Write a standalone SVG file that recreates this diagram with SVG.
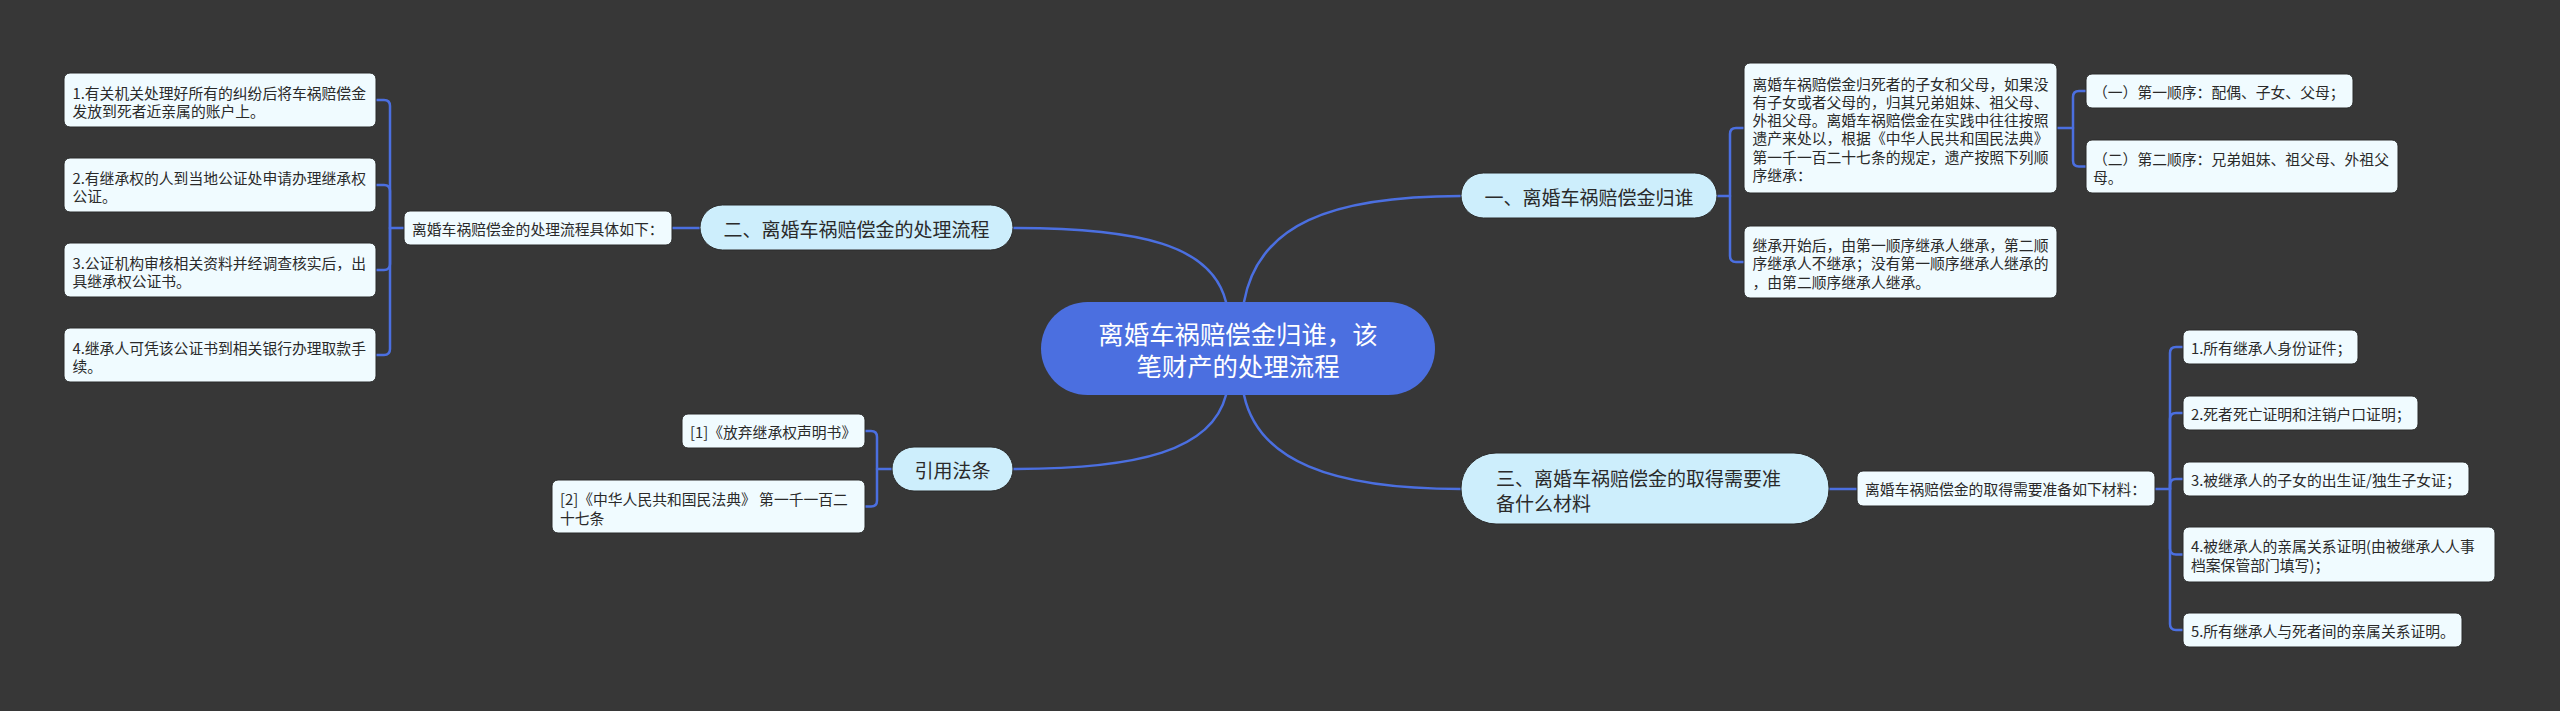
<svg xmlns="http://www.w3.org/2000/svg" width="2560" height="711" viewBox="0 0 2560 711">
<style>
text{font-family:"Noto Sans CJK SC","Noto Sans",sans-serif;dominant-baseline:central;}
.bg{fill:#373737;}
.root{fill:#4b6fe0;}
.rt{fill:#ffffff;font-size:25.4px;text-anchor:middle;}
.l1{fill:#cdeefc;stroke:#2b2b2b;stroke-width:1;}
.t1{fill:#2a2a2a;font-size:19px;}
.lf{fill:#f0fbff;stroke:#2b2b2b;stroke-width:1;}
.t2{fill:#2a2a2a;font-size:14.8px;}
.c{fill:none;stroke:#4b6fe0;stroke-width:2.5;stroke-linecap:round;stroke-linejoin:round;}
</style>
<rect class="bg" x="0" y="0" width="2560" height="711"/>
<g id="connectors">
<path class="c" d="M1244,302 C1258,225 1330,196 1461,196"/>
<path class="c" d="M1226,302 C1212,245 1140,228 1013,228"/>
<path class="c" d="M1226,395 C1212,450 1140,469 1013,469"/>
<path class="c" d="M1244,395 C1258,460 1330,489 1461,489"/>
<path class="c" d="M700,228 L672,228"/>
<path class="c" d="M404,228 L390,228 L390,106 Q390,100 384,100 L376,100"/>
<path class="c" d="M390,228 L390,191 Q390,185 384,185 L376,185"/>
<path class="c" d="M390,228 L390,264 Q390,270 384,270 L376,270"/>
<path class="c" d="M390,228 L390,349 Q390,355 384,355 L376,355"/>
<path class="c" d="M892,469 L877,469 L877,437 Q877,431 871,431 L865,431"/>
<path class="c" d="M877,469 L877,500.5 Q877,506.5 871,506.5 L865,506.5"/>
<path class="c" d="M1717,196 L1730,196 L1730,134 Q1730,128 1736,128 L1744,128"/>
<path class="c" d="M1730,196 L1730,256 Q1730,262 1736,262 L1744,262"/>
<path class="c" d="M2057,128 L2073,128 L2073,97 Q2073,91 2079,91 L2086,91"/>
<path class="c" d="M2073,128 L2073,160.5 Q2073,166.5 2079,166.5 L2086,166.5"/>
<path class="c" d="M1829,489 L1857,489"/>
<path class="c" d="M2155,489 L2170,489 L2170,353 Q2170,347 2176,347 L2183,347"/>
<path class="c" d="M2170,489 L2170,419 Q2170,413 2176,413 L2183,413"/>
<path class="c" d="M2170,489 L2170,485 Q2170,479 2176,479 L2183,479"/>
<path class="c" d="M2170,489 L2170,548.5 Q2170,554.5 2176,554.5 L2183,554.5"/>
<path class="c" d="M2170,489 L2170,624 Q2170,630 2176,630 L2183,630"/>
</g>
<g id="root">
<rect class="root" x="1041" y="302" width="394" height="93" rx="46.5"/>
<text class="rt"><tspan x="1238" y="333">离婚车祸赔偿金归谁，该</tspan><tspan x="1238" y="365">笔财产的处理流程</tspan></text>
</g>
<g id="n1">
<rect class="l1" x="1461" y="173" width="256" height="45" rx="22.5"/>
<text class="t1" x="1589" y="196" text-anchor="middle">一、离婚车祸赔偿金归谁</text>
</g>
<g id="n2">
<rect class="l1" x="700" y="205" width="313" height="45" rx="22.5"/>
<text class="t1" x="856.5" y="228" text-anchor="middle">二、离婚车祸赔偿金的处理流程</text>
</g>
<g id="n3">
<rect class="l1" x="1461" y="453" width="368" height="71" rx="35"/>
<text class="t1"><tspan x="1496" y="477">三、离婚车祸赔偿金的取得需要准</tspan><tspan x="1496" y="502">备什么材料</tspan></text>
</g>
<g id="n4">
<rect class="l1" x="892" y="447" width="121" height="44" rx="22"/>
<text class="t1" x="952.5" y="469" text-anchor="middle">引用法条</text>
</g>
<g id="n2-label">
<rect class="lf" x="404" y="211" width="268" height="34" rx="6"/>
<text class="t2" x="412" y="228">离婚车祸赔偿金的处理流程具体如下：</text>
</g>
<g id="n2-1">
<rect class="lf" x="64" y="73" width="312" height="54" rx="6"/>
<text class="t2"><tspan x="72.5" y="91.5">1.有关机关处理好所有的纠纷后将车祸赔偿金</tspan><tspan x="72.5" y="110">发放到死者近亲属的账户上。</tspan></text>
</g>
<g id="n2-2">
<rect class="lf" x="64" y="158" width="312" height="54" rx="6"/>
<text class="t2"><tspan x="72.5" y="176.5">2.有继承权的人到当地公证处申请办理继承权</tspan><tspan x="72.5" y="195">公证。</tspan></text>
</g>
<g id="n2-3">
<rect class="lf" x="64" y="243" width="312" height="54" rx="6"/>
<text class="t2"><tspan x="72.5" y="261.5">3.公证机构审核相关资料并经调查核实后，出</tspan><tspan x="72.5" y="280">具继承权公证书。</tspan></text>
</g>
<g id="n2-4">
<rect class="lf" x="64" y="328" width="312" height="54" rx="6"/>
<text class="t2"><tspan x="72.5" y="346.5">4.继承人可凭该公证书到相关银行办理取款手</tspan><tspan x="72.5" y="365">续。</tspan></text>
</g>
<g id="n4-1">
<rect class="lf" x="682" y="414" width="183" height="34" rx="6"/>
<text class="t2" x="690" y="431">[1]《放弃继承权声明书》</text>
</g>
<g id="n4-2">
<rect class="lf" x="552" y="480" width="313" height="53" rx="6"/>
<text class="t2"><tspan x="560" y="498">[2]《中华人民共和国民法典》 第一千一百二</tspan><tspan x="560" y="516.5">十七条</tspan></text>
</g>
<g id="n1-1">
<rect class="lf" x="1744" y="63" width="313" height="130" rx="6"/>
<text class="t2"><tspan x="1752.5" y="82.5">离婚车祸赔偿金归死者的子女和父母，如果没</tspan><tspan x="1752.5" y="100.8">有子女或者父母的，归其兄弟姐妹、祖父母、</tspan><tspan x="1752.5" y="119.1">外祖父母。离婚车祸赔偿金在实践中往往按照</tspan><tspan x="1752.5" y="137.4">遗产来处以，根据《中华人民共和国民法典》</tspan><tspan x="1752.5" y="155.7">第一千一百二十七条的规定，遗产按照下列顺</tspan><tspan x="1752.5" y="174">序继承：</tspan></text>
</g>
<g id="n1-2">
<rect class="lf" x="1744" y="226" width="313" height="72" rx="6"/>
<text class="t2"><tspan x="1752.5" y="244">继承开始后，由第一顺序继承人继承，第二顺</tspan><tspan x="1752.5" y="262.3">序继承人不继承；没有第一顺序继承人继承的</tspan><tspan x="1752.5" y="280.6">，由第二顺序继承人继承。</tspan></text>
</g>
<g id="n1-1-1">
<rect class="lf" x="2086" y="74" width="267" height="34" rx="6"/>
<text class="t2" x="2093" y="91">（一）第一顺序：配偶、子女、父母；</text>
</g>
<g id="n1-1-2">
<rect class="lf" x="2086" y="140" width="312" height="53" rx="6"/>
<text class="t2"><tspan x="2093" y="157.5">（二）第二顺序：兄弟姐妹、祖父母、外祖父</tspan><tspan x="2093" y="176">母。</tspan></text>
</g>
<g id="n3-label">
<rect class="lf" x="1857" y="471" width="298" height="35" rx="6"/>
<text class="t2" x="1865" y="488.5">离婚车祸赔偿金的取得需要准备如下材料：</text>
</g>
<g id="n3-1">
<rect class="lf" x="2183" y="330" width="175" height="34" rx="6"/>
<text class="t2" x="2191" y="347">1.所有继承人身份证件；</text>
</g>
<g id="n3-2">
<rect class="lf" x="2183" y="396" width="235" height="34" rx="6"/>
<text class="t2" x="2191" y="413">2.死者死亡证明和注销户口证明；</text>
</g>
<g id="n3-3">
<rect class="lf" x="2183" y="462" width="286" height="34" rx="6"/>
<text class="t2" x="2191" y="479">3.被继承人的子女的出生证/独生子女证；</text>
</g>
<g id="n3-4">
<rect class="lf" x="2183" y="527" width="312" height="55" rx="6"/>
<text class="t2"><tspan x="2191" y="545">4.被继承人的亲属关系证明(由被继承人人事</tspan><tspan x="2191" y="563.5">档案保管部门填写)；</tspan></text>
</g>
<g id="n3-5">
<rect class="lf" x="2183" y="613" width="279" height="34" rx="6"/>
<text class="t2" x="2191" y="630">5.所有继承人与死者间的亲属关系证明。</text>
</g>
</svg>
